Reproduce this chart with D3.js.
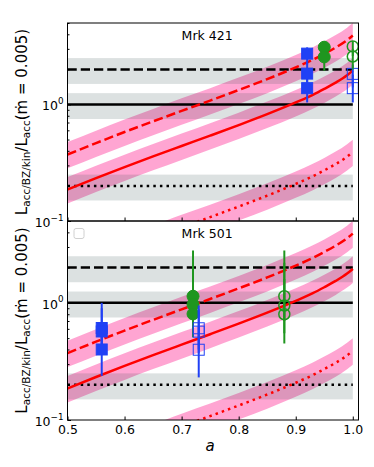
<!DOCTYPE html>
<html lang="en">
<head>
<meta charset="UTF-8">
<title>Jet power vs spin</title>
<script src="https://d3js.org/d3.v7.min.js"></script>
<style>
  body { margin: 0; background: #fff; }
  svg { font-family: "DejaVu Sans", sans-serif; }
</style>
</head>
<body>
<div id="chart"></div>
<script>
// spin grid of the model curves
const spin = [0.5, 0.55, 0.6, 0.65, 0.7, 0.75, 0.8, 0.85, 0.9, 0.93, 0.95, 0.97, 0.99, 1.0];

// solid red curve and its pink band
const solidMid = [0.186, 0.233, 0.290, 0.358, 0.440, 0.540, 0.665, 0.825, 1.04, 1.21, 1.36, 1.54, 1.78, 1.95];
const solidLo  = [0.141, 0.177, 0.220, 0.272, 0.334, 0.410, 0.505, 0.627, 0.790, 0.920, 1.03, 1.17, 1.35, 1.48];
const solidHi  = [0.238, 0.298, 0.371, 0.458, 0.563, 0.691, 0.851, 1.06, 1.33, 1.55, 1.74, 1.97, 2.28, 2.50];

// dashed red curve
const dashedMid = [0.372, 0.466, 0.580, 0.716, 0.880, 1.08, 1.33, 1.65, 2.08, 2.42, 2.72, 3.08, 3.56, 3.90];
const dashedLo  = [0.283, 0.354, 0.441, 0.544, 0.669, 0.821, 1.01, 1.25, 1.58, 1.84, 2.07, 2.34, 2.71, 2.96];
const dashedHi  = [0.476, 0.596, 0.742, 0.916, 1.13, 1.38, 1.70, 2.11, 2.66, 3.10, 3.48, 3.94, 4.56, 4.99];

// dotted red curve
const dottedMid = [0.0372, 0.0466, 0.0580, 0.0716, 0.0880, 0.108, 0.133, 0.165, 0.208, 0.242, 0.272, 0.308, 0.356, 0.390];
const dottedLo  = [0.0283, 0.0354, 0.0441, 0.0544, 0.0669, 0.0821, 0.101, 0.125, 0.158, 0.184, 0.207, 0.234, 0.271, 0.296];
const dottedHi  = [0.0476, 0.0596, 0.0742, 0.0916, 0.113, 0.138, 0.170, 0.211, 0.266, 0.310, 0.348, 0.394, 0.456, 0.499];

// black reference levels with grey bands
const refLevel = [2, 1, 0.2];
const refLo    = [1.5, 0.75, 0.15];
const refHi    = [2.5, 1.25, 0.25];
const refDash  = ["9.25,4", null, "2.5,4.1"];

// measurements: [spin, value, low, high, kind]
const mrk421Points = [
  [0.92, 2.73, 2.2, 3.09, "blueFilled"],
  [0.92, 1.84, 1.35, 2.3, "blueFilled"],
  [0.92, 1.38, 1.04, 1.85, "blueFilled"],
  [0.95, 3.10, 2.6, 3.48, "greenFilled"],
  [0.95, 2.56, 1.95, 3.0, "greenFilled"],
  [1.0, 1.83, 1.4, 2.2, "blueOpen"],
  [1.0, 1.38, 1.04, 1.8, "blueOpen"],
  [1.0, 3.15, 2.6, 3.5, "greenOpen"],
  [1.0, 2.58, 2.0, 3.0, "greenOpen"]
];
const mrk501Points = [
  [0.56, 0.61, 0.42, 1.0, "blueFilled"],
  [0.56, 0.57, 0.40, 0.9, "blueFilled"],
  [0.56, 0.40, 0.238, 0.58, "blueFilled"],
  [0.72, 1.14, 0.7, 2.8, "greenFilled"],
  [0.72, 0.967, 0.6, 2.2, "greenFilled"],
  [0.72, 0.805, 0.508, 1.6, "greenFilled"],
  [0.73, 0.607, 0.4, 0.95, "blueOpen"],
  [0.73, 0.568, 0.37, 0.88, "blueOpen"],
  [0.73, 0.398, 0.231, 0.62, "blueOpen"],
  [0.88, 1.14, 0.7, 2.8, "greenOpen"],
  [0.88, 0.95, 0.55, 2.2, "greenOpen"],
  [0.88, 0.80, 0.45, 1.6, "greenOpen"]
];

const xTicks = [0.5, 0.6, 0.7, 0.8, 0.9, 1.0];
const yMajor = [0.1, 1];
const yMinor = [0.2, 0.3, 0.4, 0.5, 0.6, 0.7, 0.8, 0.9, 2, 3, 4, 5];

const width = 374, height = 467;
const left = 67.5, right = 358.5;
const blue = "#2040f5", green = "#1f961f";

const svg = d3.select("#chart").append("svg")
  .attr("width", width)
  .attr("height", height);

const x = d3.scaleLinear().domain([0.5, 1.01]).range([left, right]);

const panels = [
  { name: "Mrk 421", top: 23, bottom: 221, points: mrk421Points, xLabels: false, legend: false },
  { name: "Mrk 501", top: 221, bottom: 420, points: mrk501Points, xLabels: true, legend: true }
];

const models = [
  { mid: dashedMid, lo: dashedLo, hi: dashedHi, dash: "9.25,4" },
  { mid: solidMid, lo: solidLo, hi: solidHi, dash: null },
  { mid: dottedMid, lo: dottedLo, hi: dottedHi, dash: "2.5,4.1" }
];

panels.forEach((p, pi) => {
  const y = d3.scaleLog().domain([0.1, 5]).range([p.bottom, p.top]);
  const g = svg.append("g");

  g.append("clipPath").attr("id", "clip" + pi)
    .append("rect")
    .attr("x", left).attr("y", p.top)
    .attr("width", right - left).attr("height", p.bottom - p.top);

  const body = g.append("g").attr("clip-path", `url(#clip${pi})`);

  // pink uncertainty bands of the model curves
  const area = d3.area()
    .x(i => x(spin[i]))
    .curve(d3.curveMonotoneX);
  models.forEach(m => {
    body.append("path")
      .attr("d", area.y0(i => y(m.lo[i])).y1(i => y(m.hi[i]))(d3.range(spin.length)))
      .attr("fill", "#ff69b4")
      .attr("fill-opacity", 0.6);
  });

  // grey bands around the reference levels
  refLevel.forEach((v, i) => {
    body.append("rect")
      .attr("x", x(0.5)).attr("width", x(1.0) - x(0.5))
      .attr("y", y(refHi[i])).attr("height", y(refLo[i]) - y(refHi[i]))
      .attr("fill", "#2f4f4f")
      .attr("fill-opacity", 0.17);
  });

  refLevel.forEach((v, i) => {
    body.append("line")
      .attr("x1", x(0.5)).attr("x2", x(1.0))
      .attr("y1", y(v)).attr("y2", y(v))
      .attr("stroke", "#000")
      .attr("stroke-width", 2.5)
      .attr("stroke-dasharray", refDash[i]);
  });

  // red model curves
  const line = d3.line()
    .x(i => x(spin[i]))
    .curve(d3.curveMonotoneX);
  models.forEach(m => {
    body.append("path")
      .attr("d", line.y(i => y(m.mid[i]))(d3.range(spin.length)))
      .attr("fill", "none")
      .attr("stroke", "red")
      .attr("stroke-width", 2.5)
      .attr("stroke-dasharray", m.dash);
  });

  // measurements
  const pts = g.append("g");
  ["blueFilled", "greenFilled", "blueOpen", "greenOpen"].forEach(kind => {
    const data = p.points.filter(d => d[4] === kind);
    const col = kind.startsWith("blue") ? blue : green;
    const filled = kind.endsWith("Filled");
    pts.selectAll(null).data(data).join("line")
      .attr("x1", d => x(d[0])).attr("x2", d => x(d[0]))
      .attr("y1", d => y(d[2])).attr("y2", d => y(d[3]))
      .attr("stroke", col)
      .attr("stroke-width", 2);
    if (kind.startsWith("blue")) {
      pts.selectAll(null).data(data).join("rect")
        .attr("x", d => x(d[0]) - 5.5).attr("y", d => y(d[1]) - 5.5)
        .attr("width", 11).attr("height", 11)
        .attr("fill", filled ? col : "none")
        .attr("stroke", col)
        .attr("stroke-width", 1);
    } else {
      pts.selectAll(null).data(data).join("circle")
        .attr("cx", d => x(d[0])).attr("cy", d => y(d[1]))
        .attr("r", filled ? 6 : 5.5)
        .attr("fill", filled ? col : "none")
        .attr("stroke", col)
        .attr("stroke-width", filled ? 1 : 1.5);
    }
  });

  // axes, ticks point inward
  g.append("g")
    .attr("transform", `translate(${left},0)`)
    .call(d3.axisLeft(y).tickValues(yMinor).tickSize(-2).tickFormat(""))
    .call(a => a.select(".domain").remove());
  g.append("g")
    .attr("transform", `translate(${left},0)`)
    .call(d3.axisLeft(y).tickValues(yMajor).tickSize(-3.5).tickFormat(""))
    .call(a => a.select(".domain").remove());

  const yl = g.append("g").attr("font-size", 12.5).attr("text-anchor", "end");
  yMajor.forEach(v => {
    const t = yl.append("text").attr("x", left - 4).attr("y", y(v) + 6);
    t.append("tspan").text("10");
    t.append("tspan").attr("font-size", 8.8).attr("dy", -6.5).text(v === 1 ? "0" : "\u22121");
  });

  const xa = g.append("g")
    .attr("transform", `translate(0,${p.bottom})`)
    .call(d3.axisBottom(x).tickValues(xTicks).tickSize(-3.5).tickPadding(5)
      .tickFormat(p.xLabels ? d3.format(".1f") : ""))
    .call(a => a.select(".domain").remove());
  xa.attr("font-size", 12.5).attr("font-family", null);

  g.append("rect")
    .attr("x", left).attr("y", p.top)
    .attr("width", right - left).attr("height", p.bottom - p.top)
    .attr("fill", "none")
    .attr("stroke", "#000")
    .attr("stroke-width", 1);

  g.append("text")
    .attr("x", x(0.7)).attr("y", p.top + 17)
    .attr("font-size", 12.5)
    .text(p.name);

  if (p.legend) {
    g.append("rect")
      .attr("x", 74).attr("y", p.top + 7.5)
      .attr("width", 10).attr("height", 10)
      .attr("rx", 2)
      .attr("fill", "#fff")
      .attr("stroke", "#d0d0d0")
      .attr("stroke-width", 1);
  }

  // y label
  const yc = (p.top + p.bottom) / 2;
  const lab = g.append("text")
    .attr("transform", `translate(26.5,${yc}) rotate(-90)`)
    .attr("text-anchor", "middle")
    .attr("font-size", 15);
  lab.append("tspan").text("L");
  lab.append("tspan").attr("font-size", 10.5).attr("dy", 3).text("acc/BZ/kin");
  lab.append("tspan").attr("dy", -3).text("/L");
  lab.append("tspan").attr("font-size", 10.5).attr("dy", 3).text("acc");
  lab.append("tspan").attr("dy", -3).text("(\u1E41 = 0.005)");
});

svg.append("text")
  .attr("x", x(0.75)).attr("y", 451)
  .attr("text-anchor", "middle")
  .attr("font-size", 15)
  .attr("font-style", "italic")
  .text("a");
</script>
</body>
</html>
